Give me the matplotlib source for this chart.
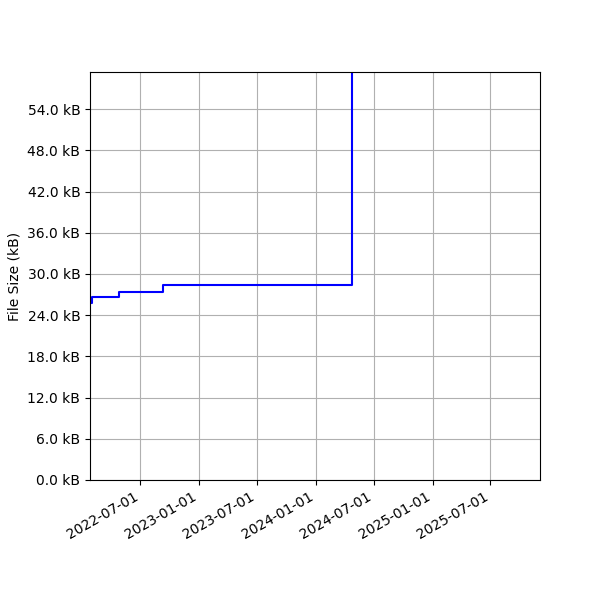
import matplotlib
matplotlib.use('Agg')
import matplotlib.pyplot as plt
import matplotlib.dates as mdates
from matplotlib.ticker import MultipleLocator, FuncFormatter
import numpy as np

# file size history (kB)
dates = ['2022-01-25', '2022-01-30', '2022-04-26', '2022-09-09', '2024-04-24']
sizes_kb = [25.8, 26.7, 27.4, 28.4, 80.0]

x = np.array(dates, dtype='datetime64[D]')
y = np.array(sizes_kb)

fig, ax = plt.subplots(figsize=(6, 6), dpi=100)
ax.plot(x.astype('datetime64[D]').astype(object), y, color='blue', drawstyle='steps-post')

ax.set_xlim(np.datetime64('2022-01-25').astype(object), np.datetime64('2025-12-03').astype(object))
ax.set_ylim(0, 59.4)
ax.yaxis.set_major_locator(MultipleLocator(6))
ax.yaxis.set_major_formatter(FuncFormatter(lambda v, p: '%.1f kB' % v))
ax.xaxis.set_major_locator(mdates.MonthLocator(bymonth=[1, 7]))
ax.xaxis.set_major_formatter(mdates.DateFormatter('%Y-%m-%d'))
ax.set_ylabel('File Size (kB)')
ax.grid(True)

fig.autofmt_xdate()
fig.subplots_adjust(left=0.15, right=0.9, bottom=0.2, top=0.88)
fig.savefig('out.png')
